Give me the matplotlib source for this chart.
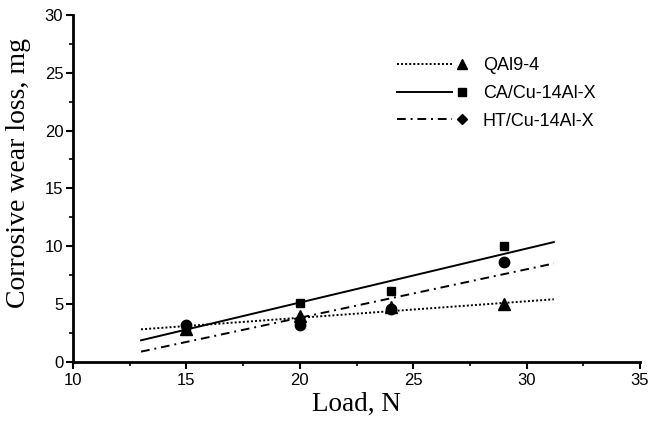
import matplotlib
matplotlib.use("Agg")
import matplotlib.pyplot as plt
from matplotlib.lines import Line2D
from matplotlib.ticker import MultipleLocator

# ---- data ----
load = [15, 20, 24, 29]
qal = [2.8, 3.95, 4.7, 5.0]
ca = [2.9, 5.1, 6.1, 10.0]
ht = [3.2, 3.2, 4.6, 8.6]

fit_x = [13, 31.2]
qal_fit = [2.8, 5.4]
ca_fit = [1.85, 10.35]
ht_fit = [0.87, 8.5]

labels = ["QAl9-4", "CA/Cu-14Al-X", "HT/Cu-14Al-X"]
x_ticks = [10, 15, 20, 25, 30, 35]
y_ticks = [0, 5, 10, 15, 20, 25, 30]

dotted = (0, (1, 1.1))
dashdot = (0, (4.5, 2.5, 1, 2.5))

fig = plt.figure(figsize=(6.52, 4.28), dpi=100)
ax = fig.add_axes([73 / 652, 1 - 361.7 / 428, (640 - 73) / 652, (361.7 - 15) / 428])

lw = 1.4
ax.plot(fit_x, qal_fit, color="black", lw=lw, linestyle=dotted)
ax.plot(fit_x, ca_fit, color="black", lw=lw, linestyle="-")
ax.plot(fit_x, ht_fit, color="black", lw=lw, linestyle=dashdot)

ax.plot(load, ca, linestyle="none", marker="s", ms=6, color="black")
ax.plot(load, ht, linestyle="none", marker="o", ms=7.5, color="black")
ax.plot(load, qal, linestyle="none", marker="^", ms=8, color="black")

ax.set_xlim(10, 35)
ax.set_ylim(0, 30)
ax.set_xticks(x_ticks)
ax.set_yticks(y_ticks)
ax.xaxis.set_minor_locator(MultipleLocator(2.5))
ax.yaxis.set_minor_locator(MultipleLocator(2.5))
for s in ["top", "right"]:
    ax.spines[s].set_visible(False)
for s in ["left", "bottom"]:
    ax.spines[s].set_linewidth(2)
ax.tick_params(which="major", direction="out", length=5, width=1.5,
               labelsize=12, pad=2)
ax.tick_params(axis="x", which="major", pad=3)
ax.tick_params(which="minor", direction="out", length=3, width=1.2)
for lab in ax.get_xticklabels() + ax.get_yticklabels():
    lab.set_fontfamily("Liberation Sans")

ax.set_xlabel("Load, N", fontfamily="Liberation Serif", fontsize=19.5, labelpad=3)
ax.set_ylabel("Corrosive wear loss, mg", fontfamily="Liberation Serif", fontsize=20)
ax.yaxis.set_label_coords(-0.074, 0.543)


class LineMarkerHandler:
    def __init__(self, ls, marker, ms):
        self.ls = ls
        self.marker = marker
        self.ms = ms

    def legend_artist(self, legend, orig_handle, fontsize, handlebox):
        x0, y0 = handlebox.xdescent, handlebox.ydescent
        w, h = handlebox.width, handlebox.height
        yc = h / 2 - y0
        ln = Line2D([-x0, -x0 + w * 0.78], [yc, yc], color="black", lw=lw, linestyle=self.ls)
        mk = Line2D([-x0 + w * 0.93], [yc], color="black", marker=self.marker,
                    ms=self.ms, linestyle="none")
        handlebox.add_artist(ln)
        handlebox.add_artist(mk)
        return ln


h1 = Line2D([], [])
h2 = Line2D([], [])
h3 = Line2D([], [])
leg = fig.legend([h1, h2, h3], labels,
                 handler_map={h1: LineMarkerHandler(dotted, "^", 7.5),
                              h2: LineMarkerHandler("-", "s", 5.5),
                              h3: LineMarkerHandler(dashdot, "D", 5.5)},
                 loc="upper left", bbox_to_anchor=(397 / 652, 1 - 57 / 428),
                 frameon=False, borderpad=0, borderaxespad=0,
                 handlelength=3.9, handletextpad=0.85, labelspacing=0.6,
                 prop={"family": "Liberation Sans", "size": 13})

fig.savefig("out.png", dpi=100)
